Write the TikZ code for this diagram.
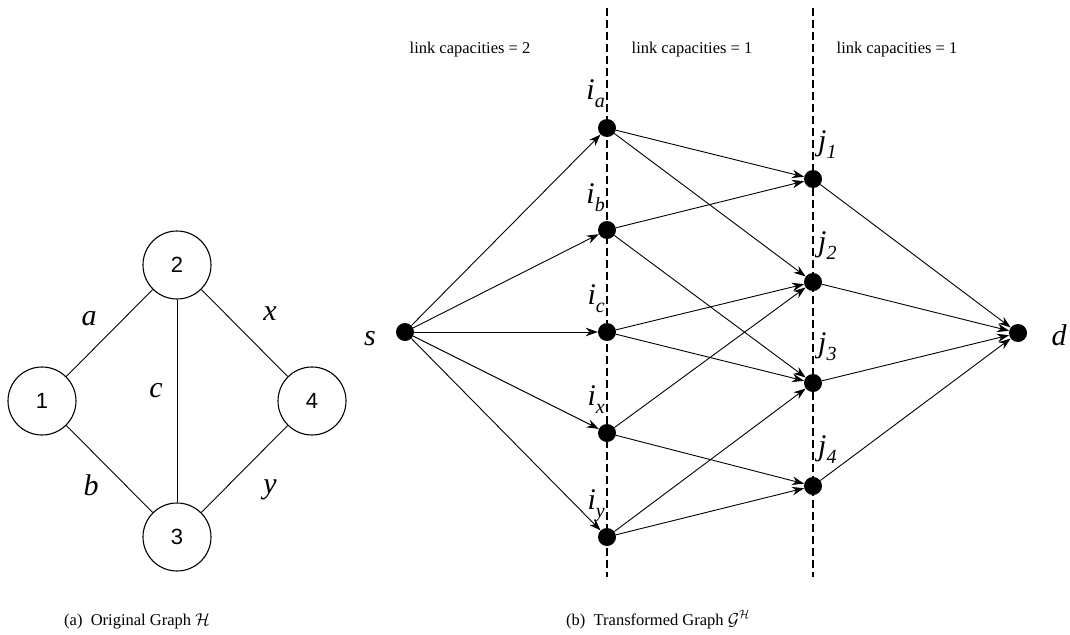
\documentclass[tikz,border=0pt]{standalone}
\usepackage{fontspec}
\setmainfont{Liberation Serif}
\setsansfont{Liberation Sans}
\usetikzlibrary{arrows.meta}
\newcommand{\mysub}[1]{\raisebox{-0.28em}{\fontsize{20}{24}\selectfont #1}}
\begin{document}
\begin{tikzpicture}[x=1pt,y=-1pt,
  dot/.style={circle,fill=black,inner sep=0pt,minimum size=18pt},
  vtx/.style={circle,draw=black,line width=1.1pt,minimum size=68pt,inner sep=0pt,font=\fontsize{22}{26}\selectfont\sffamily},
  edge/.style={line width=0.9pt},
  arr/.style={line width=0.9pt,-{Stealth[length=12pt,width=8.5pt]}},
  lab/.style={font=\fontsize{30}{36}\selectfont\itshape,inner sep=0pt},
  captxt/.style={font=\fontsize{16.5}{20}\selectfont,inner sep=0pt},
  sepline/.style={line width=1.8pt,dash pattern=on 8pt off 4pt}
]
\useasboundingbox (0,0) rectangle (1070,634);

% ---------- (a) original graph ----------
\node[vtx] (n2) at (177,265) {2};
\node[vtx] (n1) at (42,401) {1};
\node[vtx] (n4) at (312,401) {4};
\node[vtx] (n3) at (177,537) {3};
\draw[edge] (n1) -- (n2);
\draw[edge] (n1) -- (n3);
\draw[edge] (n2) -- (n3);
\draw[edge] (n2) -- (n4);
\draw[edge] (n3) -- (n4);
\node[lab,anchor=base] (la) at (89,325) {a};
\node[lab,anchor=base] (lc) at (156,397) {c};
\node[lab,anchor=base] (lx) at (270,320) {x};
\node[lab,anchor=base] (lb) at (91,495) {b};
\node[lab,anchor=base] (ly) at (270,493) {y};
\node[captxt,anchor=base west] (capa) at (64,625) {(a)\enspace Original Graph $\mathcal{H}$};

% ---------- (b) transformed graph ----------
\coordinate (t1) at (607,8);
\coordinate (b1) at (607,577);
\coordinate (t2) at (813,8);
\coordinate (b2) at (813,577);
\draw[sepline] (t1) -- (b1);
\draw[sepline] (t2) -- (b2);

\node[captxt,anchor=base] (c1) at (470,53) {link capacities = 2};
\node[captxt,anchor=base] (c2) at (692,53) {link capacities = 1};
\node[captxt,anchor=base] (c3) at (897,53) {link capacities = 1};

\node[dot] (s) at (405,332) {};
\node[dot] (ia) at (607,128) {};
\node[dot] (ib) at (607,230) {};
\node[dot] (ic) at (607,332) {};
\node[dot] (ix) at (607,433) {};
\node[dot] (iy) at (607,537) {};
\node[dot] (j1) at (813,179) {};
\node[dot] (j2) at (813,282) {};
\node[dot] (j3) at (813,383) {};
\node[dot] (j4) at (813,486) {};
\node[dot] (d) at (1018,333) {};

\node[lab,anchor=base] (ls) at (370,345) {s};
\node[lab,anchor=base] (ld) at (1059,345) {d};
\node[lab,anchor=base east] (lia) at (605,99) {i\mysub{a}};
\node[lab,anchor=base east] (lib) at (605,203) {i\mysub{b}};
\node[lab,anchor=base east] (lic) at (605,304) {i\mysub{c}};
\node[lab,anchor=base east] (lix) at (605,405) {i\mysub{x}};
\node[lab,anchor=base east] (liy) at (605,509) {i\mysub{y}};
\node[lab,anchor=base west] (lj1) at (818,150) {j\mysub{1}};
\node[lab,anchor=base west] (lj2) at (818,251) {j\mysub{2}};
\node[lab,anchor=base west] (lj3) at (818,352) {j\mysub{3}};
\node[lab,anchor=base west] (lj4) at (818,455) {j\mysub{4}};

\foreach \n in {ia,ib,ic,ix,iy} \draw[arr] (s) -- (\n);
\draw[arr] (ia) -- (j1);
\draw[arr] (ia) -- (j2);
\draw[arr] (ib) -- (j1);
\draw[arr] (ib) -- (j3);
\draw[arr] (ic) -- (j2);
\draw[arr] (ic) -- (j3);
\draw[arr] (ix) -- (j2);
\draw[arr] (ix) -- (j4);
\draw[arr] (iy) -- (j3);
\draw[arr] (iy) -- (j4);
\foreach \n in {j1,j2,j3,j4} \draw[arr] (\n) -- (d);

\node[captxt,anchor=base west] (capb) at (566,625) {(b)\enspace Transformed Graph $\mathcal{G}^{\mathcal{H}}$};
\end{tikzpicture}
\end{document}
